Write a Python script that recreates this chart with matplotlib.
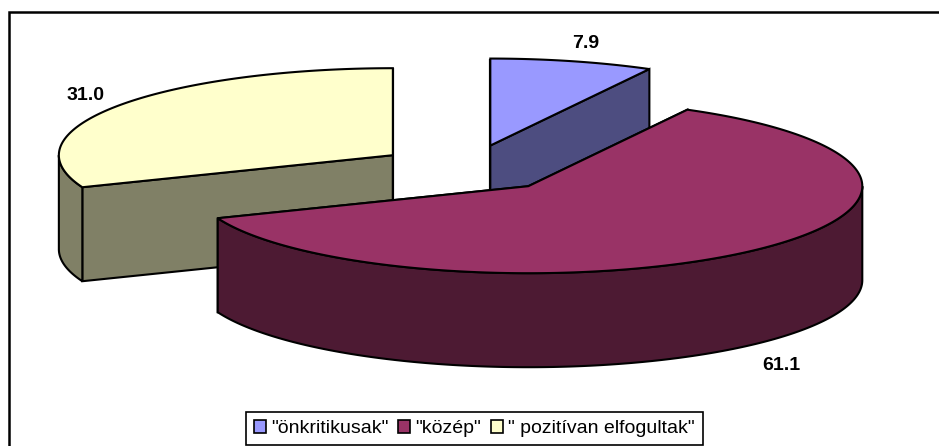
#!/usr/bin/env python3
"""Exploded 3D-look pie chart with legend along the bottom."""

import numpy as np
import matplotlib

matplotlib.use("Agg")
import matplotlib.pyplot as plt
from matplotlib.patches import Patch, Polygon, Rectangle

labels = ['"önkritikusak"', '"közép"', '" pozitívan elfogultak"']
values = [7.9, 61.1, 31.0]
top_colors = ["#9999FF", "#993366", "#FFFFCC"]
side_colors = ["#4D4D80", "#4D1A33", "#808066"]
label_pos = [(586, 43), (781, 365), (86, 96)]
draw_order = [2, 0, 1]

CENTER = (468.0, 168.5)
RX, RY = 334.0, 87.0
EXPLODE = 0.272
DEPTH = 94.0

plt.rcParams["font.family"] = ["Liberation Sans", "DejaVu Sans"]

fig = plt.figure(figsize=(9.39, 4.46), dpi=100)
ax = fig.add_axes([0, 0, 1, 1])
ax.set_xlim(0, 939)
ax.set_ylim(446, 0)
ax.axis("off")

# chart frame runs off the right and bottom of the picture
ax.add_patch(Rectangle((9, 11.5), 1000, 500, fc="white", ec="black", lw=1.8, zorder=0))


def rim(cx, cy, a0, a1):
    # angles clockwise from 12 o'clock
    t = np.radians(np.linspace(a0, a1, max(int(abs(a1 - a0) * 2), 2)))
    return np.column_stack([cx + RX * np.sin(t), cy - RY * np.cos(t)])


def draw_slice(idx, start, end):
    mid = np.radians((start + end) / 2)
    cx = CENTER[0] + EXPLODE * RX * np.sin(mid)
    cy = CENTER[1] - EXPLODE * RY * np.cos(mid)
    z = 2 + draw_order.index(idx)
    down = np.array([0, DEPTH])
    side = side_colors[idx]

    # cut faces first, the top hides whichever ones face away
    for ang in (start, end):
        edge = np.vstack([[cx, cy], rim(cx, cy, ang, ang)[:1]])
        ax.add_patch(Polygon(np.vstack([edge, (edge + down)[::-1]]),
                             fc=side, ec="black", lw=1.5, zorder=z))

    # outer wall, only the front half of the rim shows
    a0, a1 = max(start, 90), min(end, 270)
    if a1 > a0:
        arc = rim(cx, cy, a0, a1)
        ax.add_patch(Polygon(np.vstack([arc, (arc + down)[::-1]]),
                             fc=side, ec="black", lw=1.5, zorder=z))

    top = np.vstack([[cx, cy], rim(cx, cy, start, end)])
    ax.add_patch(Polygon(top, fc=top_colors[idx], ec="black", lw=1.5, zorder=z))


angles = np.concatenate([[0], np.cumsum(values) / np.sum(values) * 360])
for i in draw_order:
    draw_slice(i, angles[i], angles[i + 1])

for val, (x, y) in zip(values, label_pos):
    ax.text(x, y, f"{val:.1f}", ha="center", va="center",
            fontsize=14, fontweight="bold", color="black", zorder=10)

handles = [Patch(fc=c, ec="black", lw=1.2) for c in top_colors]
leg = ax.legend(handles, labels, ncol=3, loc="upper left",
                bbox_to_anchor=(246 / 939, 1 - 412 / 446), borderaxespad=0,
                fontsize=14, frameon=True, fancybox=False, framealpha=1,
                edgecolor="black", handlelength=0.6, handleheight=0.6,
                handletextpad=0.28, columnspacing=0.5, borderpad=0.42)
leg.get_frame().set_linewidth(1.2)
leg.set_zorder(11)

fig.savefig("out.png", dpi=100, facecolor="white")
plt.close(fig)
